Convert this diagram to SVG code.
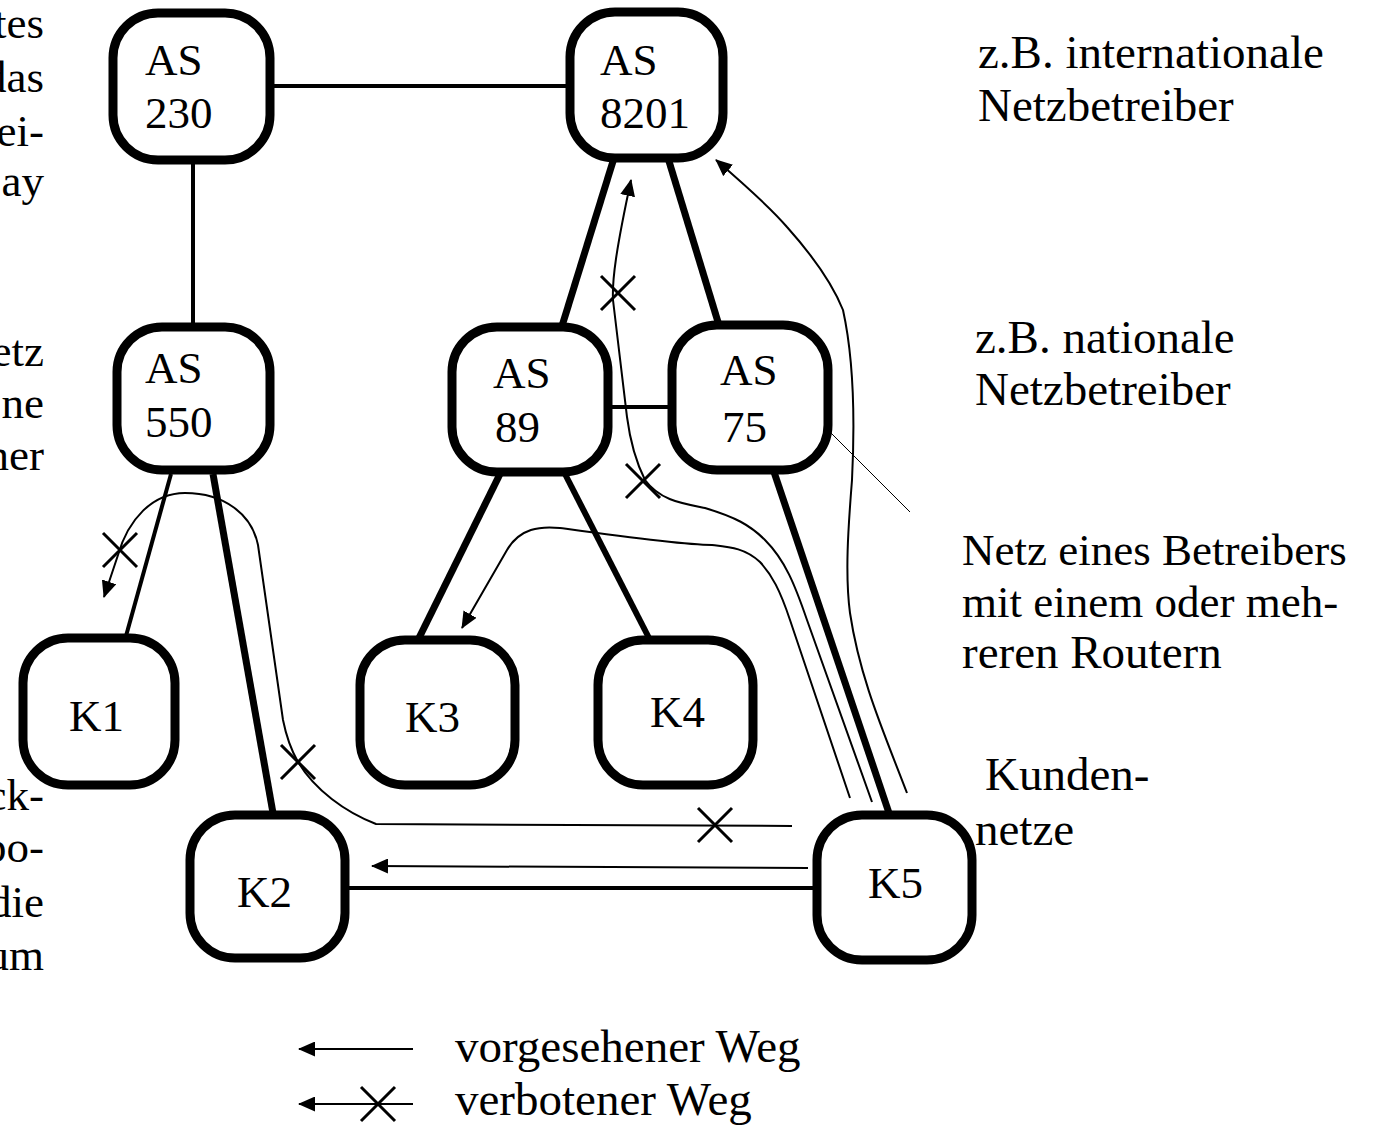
<svg xmlns="http://www.w3.org/2000/svg" width="1391" height="1127" viewBox="0 0 1391 1127">
<style>
text{font-family:"Liberation Serif","Times New Roman",serif;font-size:45px;fill:#000}
.big{font-size:47px}
.node rect{fill:#fff;stroke:#000;stroke-width:9}
.e{stroke:#000;fill:none;stroke-linecap:butt}
.w4{stroke-width:4}
.w6{stroke-width:6}
.w7{stroke-width:7}
.p{stroke:#000;fill:none;stroke-width:2}
.x{stroke:#000;stroke-width:3;fill:none}
.r{text-anchor:end}
</style>
<defs>
<marker id="ah" markerUnits="userSpaceOnUse" markerWidth="17" markerHeight="15" refX="16" refY="7.5" orient="auto">
<path d="M0,0 L17,7.5 L0,15 z" fill="#000"/>
</marker>
</defs>
<g id="side-text">
<text x="44" y="38" class="r">tes</text>
<text x="44" y="92" class="r">das</text>
<text x="44" y="146" class="r">ei-</text>
<text x="44" y="196" class="r">ay</text>
<text x="44" y="366" class="r">etz</text>
<text x="44" y="418" class="r">ne</text>
<text x="44" y="470" class="r">ner</text>
<text x="44" y="810" class="r">ck-</text>
<text x="44" y="862" class="r">po-</text>
<text x="44" y="917" class="r">die</text>
<text x="44" y="970" class="r">um</text>
<text x="978" y="68" class="big">z.B. internationale</text>
<text x="978" y="121" class="big">Netzbetreiber</text>
<text x="975" y="353" class="big">z.B. nationale</text>
<text x="975" y="405" class="big">Netzbetreiber</text>
<text x="962" y="565">Netz eines Betreibers</text>
<text x="962" y="617">mit einem oder meh-</text>
<text x="962" y="668" class="big">reren Routern</text>
<text x="985" y="790" class="big">Kunden-</text>
<text x="975" y="845" class="big">netze</text>
</g>
<g id="connectors">
<line class="e w4" x1="272" y1="86" x2="568" y2="86"/>
<line class="e w4" x1="193" y1="162" x2="193" y2="325"/>
<line class="e w7" x1="614" y1="158" x2="562" y2="326"/>
<line class="e w7" x1="668" y1="158" x2="718" y2="322"/>
<line class="e w4" x1="610" y1="407" x2="670" y2="407"/>
<line class="e w4" x1="171" y1="474" x2="126" y2="636"/>
<line class="e w7" x1="213" y1="474" x2="273" y2="813"/>
<line class="e w7" x1="500" y1="474" x2="419" y2="638"/>
<line class="e w6" x1="565" y1="474" x2="649" y2="638"/>
<line class="e w7" x1="774" y1="472" x2="889" y2="813"/>
<line class="e w4" x1="343" y1="888" x2="815" y2="888"/>
<line class="e" stroke-width="1" x1="830" y1="432" x2="910" y2="512"/>
<path class="p" d="M792,826 L376,824 C345,812 315,790 298,762 C290,748 286,735 283,720 L258,545 C252,515 225,493 185,493 C152,493 128,520 118,555 L104,597" marker-end="url(#ah)"/>
<path class="p" d="M872,802 L807,620 C795,585 785,560 765,540 C750,525 735,517 705,508 C680,503 660,500 645,480 C635,460 630,440 627,417 L613,300 C612,280 616,250 631,180" marker-end="url(#ah)"/>
<path class="p" d="M850,798 L790,620 C780,590 772,575 760,562 C745,548 730,547 712,545 C680,545 610,535 560,528 C540,526 520,528 507,550 L462,628" marker-end="url(#ah)"/>
<path class="p" d="M907,793 C885,735 860,680 850,613 C845,575 848,530 852,480 C855,420 854,360 843,310 C833,285 812,255 787,227 C770,207 745,185 716,160" marker-end="url(#ah)"/>
<path class="p" stroke-width="3" d="M808,868 L372,866" marker-end="url(#ah)"/>
<path class="x" d="M103,533 L137,567 M137,533 L103,567"/>
<path class="x" d="M281,745 L315,779 M315,745 L281,779"/>
<path class="x" d="M698,808 L732,842 M732,808 L698,842"/>
<path class="x" d="M601,276 L635,310 M635,276 L601,310"/>
<path class="x" d="M626,464 L660,498 M660,464 L626,498"/>
</g>
<g id="AS230" class="node"><rect x="113" y="13" width="157" height="147" rx="45"/><text x="145" y="75">AS</text><text x="145" y="128">230</text></g>
<g id="AS8201" class="node"><rect x="570" y="12" width="153" height="146" rx="45"/><text x="600" y="75">AS</text><text x="600" y="128">8201</text></g>
<g id="AS550" class="node"><rect x="117" y="327" width="153" height="143" rx="45"/><text x="145" y="383">AS</text><text x="145" y="437">550</text></g>
<g id="AS89" class="node"><rect x="452" y="327" width="156" height="145" rx="45"/><text x="493" y="388">AS</text><text x="495" y="442">89</text></g>
<g id="AS75" class="node"><rect x="672" y="325" width="156" height="145" rx="45"/><text x="720" y="385">AS</text><text x="722" y="442">75</text></g>
<g id="K1" class="node"><rect x="23" y="638" width="152" height="147" rx="45"/><text x="69" y="731">K1</text></g>
<g id="K2" class="node"><rect x="190" y="815" width="155" height="143" rx="45"/><text x="237" y="907">K2</text></g>
<g id="K3" class="node"><rect x="360" y="640" width="155" height="145" rx="45"/><text x="405" y="732">K3</text></g>
<g id="K4" class="node"><rect x="598" y="640" width="155" height="145" rx="45"/><text x="650" y="727">K4</text></g>
<g id="K5" class="node"><rect x="817" y="815" width="155" height="145" rx="45"/><text x="868" y="898">K5</text></g>
<g id="legend">
<path class="p" d="M413,1049 L299,1049" marker-end="url(#ah)"/>
<path class="p" d="M413,1104 L299,1104" marker-end="url(#ah)"/>
<path class="x" d="M361,1087 L395,1121 M395,1087 L361,1121"/>
<text x="455" y="1062" class="big">vorgesehener Weg</text>
<text x="455" y="1115" class="big">verbotener Weg</text>
</g>
</svg>
